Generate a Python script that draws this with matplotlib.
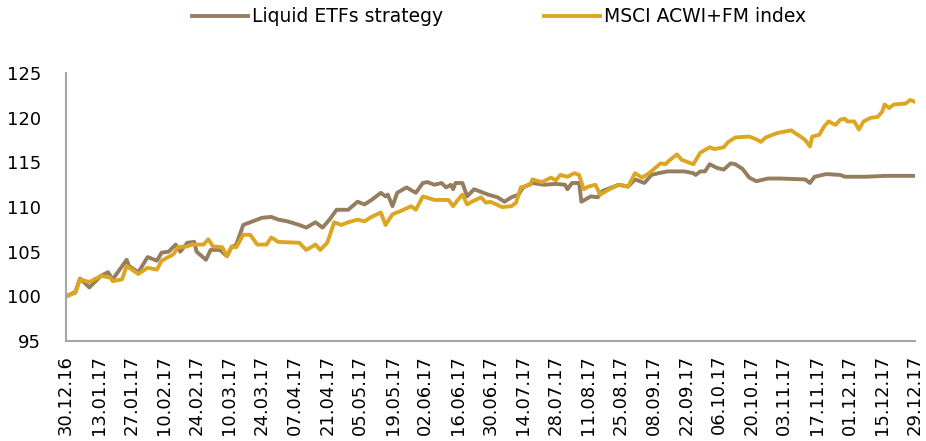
import numpy as np
import pandas as pd
import matplotlib
matplotlib.use("Agg")
from matplotlib import pyplot as plt

# days after 30.12.2016 and index values
liquid_days = [0, 4, 6, 10, 15, 18, 20, 26, 27, 31, 35, 39, 41, 44, 47, 49, 52, 55, 56, 60,
               62, 66, 69, 71, 73, 76, 80, 84, 88, 91, 95, 100, 103, 107, 110, 113, 116, 121,
               125, 128, 131, 135, 137, 138, 140, 142, 146, 150, 153, 155, 158, 161, 163, 165,
               166, 167, 170, 172, 175, 179, 181, 185, 188, 191, 194, 196, 200, 205, 210, 214,
               215, 217, 220, 221, 225, 228, 230, 234, 237, 241, 244, 248, 251, 254, 258, 265,
               269, 270, 272, 274, 276, 279, 282, 285, 287, 290, 293, 296, 301, 306, 317, 319,
               321, 326, 332, 334, 343, 351, 364]
liquid = [100.0, 100.5, 102.0, 101.0, 102.3, 102.7, 101.9, 104.1, 103.4, 102.7, 104.4, 104.0,
          104.9, 105.0, 105.8, 105.0, 106.0, 106.1, 105.0, 104.1, 105.2, 105.2, 104.5, 105.5,
          105.8, 108.0, 108.4, 108.8, 108.9, 108.6, 108.4, 108.0, 107.7, 108.3, 107.7, 108.6,
          109.7, 109.7, 110.6, 110.3, 110.8, 111.6, 111.2, 111.4, 110.1, 111.6, 112.2, 111.6,
          112.7, 112.8, 112.5, 112.7, 112.2, 112.5, 112.0, 112.7, 112.7, 111.2, 112.0, 111.6,
          111.4, 111.1, 110.6, 111.1, 111.4, 112.2, 112.7, 112.5, 112.6, 112.5, 112.0, 112.7,
          112.7, 110.6, 111.2, 111.1, 111.8, 112.2, 112.5, 112.3, 113.1, 112.7, 113.6, 113.8,
          114.0, 114.0, 113.8, 113.6, 114.0, 114.0, 114.8, 114.4, 114.2, 114.9, 114.8, 114.3,
          113.3, 112.9, 113.2, 113.2, 113.1, 112.7, 113.4, 113.7, 113.6, 113.4, 113.4, 113.5,
          113.5]

msci_days = [0, 4, 6, 10, 15, 19, 20, 24, 26, 31, 35, 39, 41, 46, 48, 52, 54, 59, 61, 63,
             67, 69, 71, 73, 76, 79, 82, 86, 88, 91, 100, 103, 107, 109, 112, 115, 118, 121,
             125, 128, 131, 135, 137, 140, 143, 148, 150, 153, 158, 164, 166, 168, 170, 172,
             174, 178, 180, 182, 187, 191, 193, 195, 199, 200, 204, 208, 210, 212, 215, 218,
             220, 222, 224, 227, 229, 233, 237, 241, 244, 247, 250, 255, 257, 259, 262, 264,
             269, 272, 276, 278, 282, 284, 287, 293, 296, 298, 300, 305, 311, 312, 315, 317,
             319, 320, 323, 325, 327, 330, 332, 334, 335, 338, 340, 342, 345, 348, 350, 351,
             353, 355, 360, 362, 364]
msci = [100.0, 100.4, 101.9, 101.6, 102.3, 102.1, 101.7, 101.9, 103.4, 102.5, 103.2, 103.0,
        104.0, 104.7, 105.5, 105.6, 105.8, 105.8, 106.4, 105.6, 105.5, 104.5, 105.6, 105.5,
        106.9, 106.9, 105.8, 105.8, 106.6, 106.1, 106.0, 105.2, 105.8, 105.2, 106.0, 108.3,
        108.0, 108.3, 108.6, 108.4, 108.9, 109.4, 108.0, 109.2, 109.5, 110.1, 109.7, 111.2,
        110.8, 110.8, 110.1, 110.8, 111.4, 110.3, 110.6, 111.1, 110.5, 110.6, 110.0, 110.1,
        110.5, 112.2, 112.5, 113.1, 112.8, 113.3, 113.0, 113.6, 113.4, 113.8, 113.6, 112.0,
        112.3, 112.5, 111.4, 112.0, 112.5, 112.3, 113.8, 113.3, 113.8, 114.9, 114.8, 115.3,
        115.9, 115.3, 114.8, 116.1, 116.7, 116.5, 116.7, 117.3, 117.8, 117.9, 117.6, 117.3,
        117.8, 118.3, 118.6, 118.4, 117.9, 117.5, 116.8, 117.9, 118.1, 119.0, 119.6, 119.2,
        119.8, 119.9, 119.6, 119.6, 118.7, 119.6, 120.0, 120.1, 120.7, 121.5, 121.1, 121.5,
        121.6, 122.0, 121.8]

series_names = ["Liquid ETFs strategy", "MSCI ACWI+FM index"]
start = pd.Timestamp("2016-12-30")
end = pd.Timestamp("2017-12-29")

liquid_dates = start + pd.to_timedelta(liquid_days, unit="D")
msci_dates = start + pd.to_timedelta(msci_days, unit="D")

fig = plt.figure(figsize=(9.26, 4.41), dpi=100)
ax = fig.add_axes([0.0713, 0.2268, 0.9167, 0.6072])

l1, = ax.plot(liquid_dates, liquid, color="#957d5f", lw=2.8, label=series_names[0])
l2, = ax.plot(msci_dates, msci, color="#dca622", lw=2.8, label=series_names[1])

ax.set_xlim(start, end)
ax.set_ylim(95, 125)
ax.set_yticks(np.arange(95, 126, 5))

ticks = pd.date_range(start, end, freq="14D")
ax.set_xticks(ticks)
ax.set_xticklabels([t.strftime("%d.%m.%y") for t in ticks], rotation=90)

for s in ["top", "right"]:
    ax.spines[s].set_visible(False)
for s in ["left", "bottom"]:
    ax.spines[s].set_color("#a6a6a6")
    ax.spines[s].set_linewidth(1.5)

ax.tick_params(axis="y", length=0, pad=18, labelsize=13)
ax.tick_params(axis="x", length=0, pad=10, labelsize=13)

fig.legend(handles=[l1, l2], loc="center", bbox_to_anchor=(0.539, 0.962), ncol=2,
           frameon=False, fontsize=13.5, handlelength=3.0, handletextpad=0.2,
           columnspacing=5.4)

fig.savefig("out.png", dpi=100)
